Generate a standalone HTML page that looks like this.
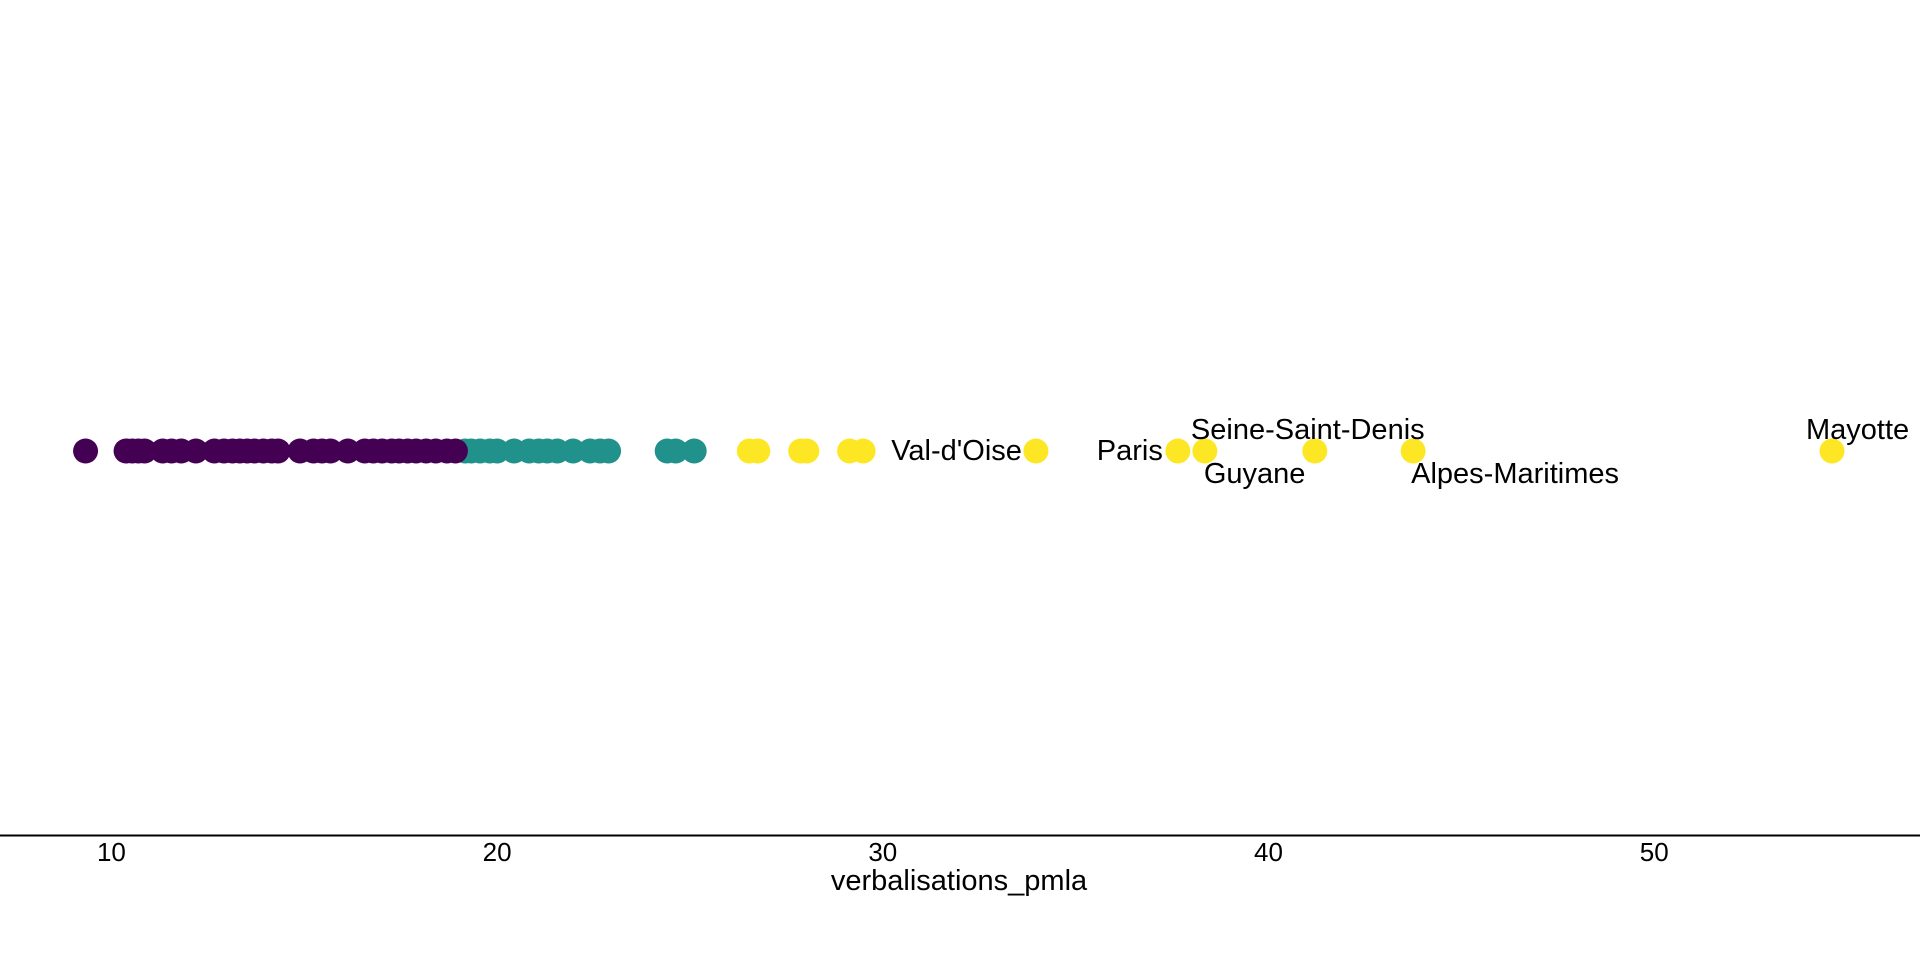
<!DOCTYPE html>
<html><head><meta charset="utf-8"><style>
html,body{margin:0;padding:0;background:#fff}
svg{display:block}
text{font-family:"Liberation Sans",Arial,sans-serif;fill:#000}
</style></head><body>
<svg id="chart" width="1920" height="960" viewBox="0 0 1920 960" xmlns="http://www.w3.org/2000/svg">
<g id="points"></g>
<g id="labels"></g>
<line x1="0" x2="1920" y1="835.5" y2="835.5" stroke="#000" stroke-width="2"/>
<g id="ticks"></g>
<text x="959" y="890" font-size="29" text-anchor="middle">verbalisations_pmla</text>
</svg>
<script>
const purpleValues=[9.33,10.38,10.54,10.70,10.86,11.33,11.56,11.81,12.19,12.67,12.92,13.14,13.33,13.52,13.71,13.94,14.16,14.32,14.89,15.24,15.46,15.68,16.13,16.57,16.79,17.02,17.27,17.46,17.68,17.90,18.16,18.41,18.70,18.92];
const tealValues=[19.17,19.33,19.56,19.81,20.0,20.44,20.83,21.08,21.30,21.56,21.97,22.41,22.67,22.89,24.41,24.63,25.11];
const yellowValues=[26.54,26.76,27.87,28.03,29.14,29.49,33.97,37.65,38.35,41.2,43.75,54.61];
const labelNames=["Val-d'Oise","Paris","Seine-Saint-Denis","Guyane","Alpes-Maritimes","Mayotte"];
const labelValues=[33.97,37.65,41.2,38.35,43.75,54.61];
const tickValues=[10,20,30,40,50];
const tickLabels=["10","20","30","40","50"];

const NS="http://www.w3.org/2000/svg";
function xScale(v){return 111.4+(v-10)*38.57;}
const yDot=451;
const labelOffsets=[[-14,9,"end"],[-15,9,"end"],[-7,-12,"middle"],[-1,32,"start"],[-2,32,"start"],[-26,-12,"start"]];
const pts=document.getElementById('points');
function drawSeries(vals,color,name){
  vals.forEach(v=>{
    const c=document.createElementNS(NS,'circle');
    c.setAttribute('cx',xScale(v));c.setAttribute('cy',yDot);c.setAttribute('r',12.5);c.setAttribute('fill',color);
    
    
    pts.appendChild(c);
  });
}
drawSeries(yellowValues,'#fde725','point-high');
drawSeries(tealValues,'#21918c','point-mid');
drawSeries(purpleValues,'#440154','point-low');
const lg=document.getElementById('labels');
labelNames.forEach((n,i)=>{
  const t=document.createElementNS(NS,'text');
  const o=labelOffsets[i];
  t.setAttribute('x',xScale(labelValues[i])+o[0]);t.setAttribute('y',yDot+o[1]);
  t.setAttribute('text-anchor',o[2]);t.setAttribute('font-size','29');
  t.textContent=n;
  
  
  lg.appendChild(t);
});
const tg=document.getElementById('ticks');
tickValues.forEach((v,i)=>{
  const t=document.createElementNS(NS,'text');
  t.setAttribute('x',xScale(v));t.setAttribute('y',861);
  t.setAttribute('text-anchor','middle');t.setAttribute('font-size','26');
  t.textContent=tickLabels[i];
  
  
  tg.appendChild(t);
});
</script>
</body></html>
